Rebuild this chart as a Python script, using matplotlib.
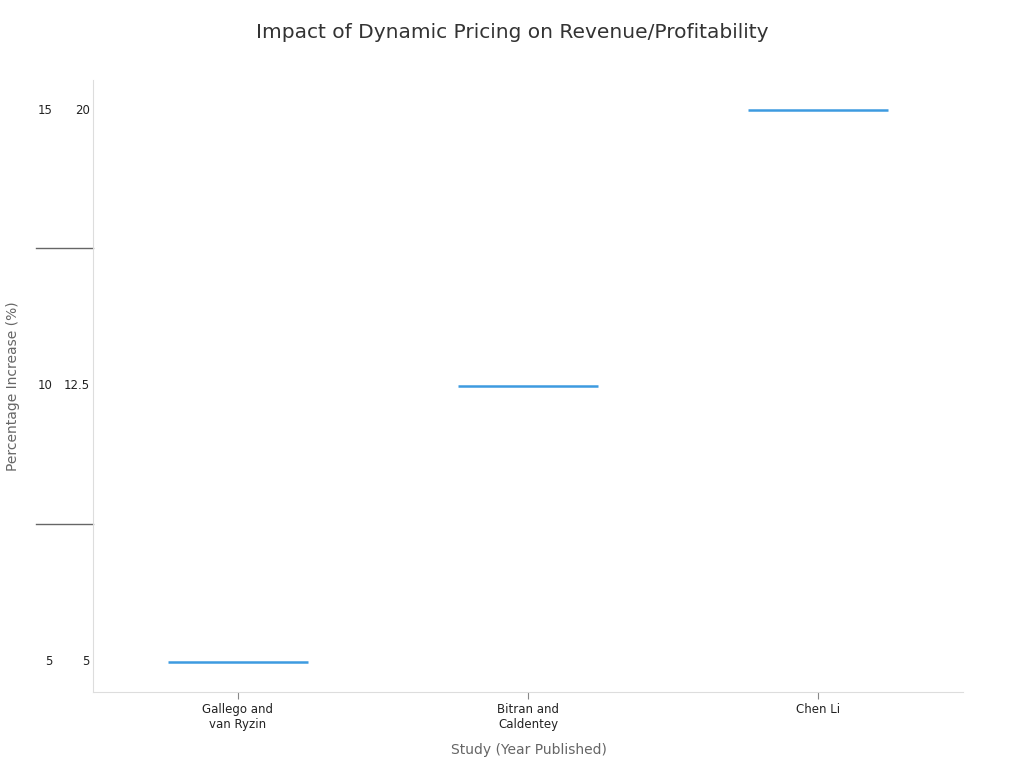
import matplotlib
matplotlib.use("Agg")
import matplotlib.pyplot as plt

studies = ["Gallego and\nvan Ryzin", "Bitran and\nCaldentey", "Chen Li"]
low = [5, 10, 15]
high = [5, 12.5, 20]

def fmt(v):
    return f"{v:g}"

fig = plt.figure(figsize=(10.24, 7.68), dpi=100)
ax = fig.add_axes([93/1024, 1-692/768, 870/1024, 612/768])
pos = list(range(len(studies)))
ax.hlines(pos, [p - 0.243 for p in pos], [p + 0.243 for p in pos], color="#3d9be0", lw=1.8)
ax.set_xlim(-0.5, 2.5)
ax.set_ylim(-0.11, 2.11)
ax.set_yticks([])
ax.set_xticks(pos)
ax.set_xticklabels(studies, fontsize=8.5, color="#222222")
ax.tick_params(axis="x", length=5, color="#888888", pad=3)
for s in ["top", "right"]:
    ax.spines[s].set_visible(False)
for s in ["left", "bottom"]:
    ax.spines[s].set_color("#dddddd")
tr = ax.get_yaxis_transform()
for p, lo, hi in zip(pos, low, high):
    ax.text(-0.047, p, fmt(lo), transform=tr, ha="right", va="center", fontsize=8.5, color="#222222")
    ax.text(-0.004, p, fmt(hi), transform=tr, ha="right", va="center", fontsize=8.5, color="#222222")
for p in pos[:-1]:
    ax.plot([-0.066, 0], [p + 0.5, p + 0.5], transform=tr, color="#666666", lw=1, clip_on=False)
fig.text(13/1024, 1-386/768, "Percentage Increase (%)", rotation=90, ha="center", va="center", fontsize=10, color="#666666")
fig.text(529/1024, 1-750/768, "Study (Year Published)", ha="center", va="center", fontsize=10, color="#666666")
fig.text(0.5, 1-33/768, "Impact of Dynamic Pricing on Revenue/Profitability", ha="center", va="center", fontsize=14.5, color="#333333")
fig.savefig("out.png", dpi=100)
